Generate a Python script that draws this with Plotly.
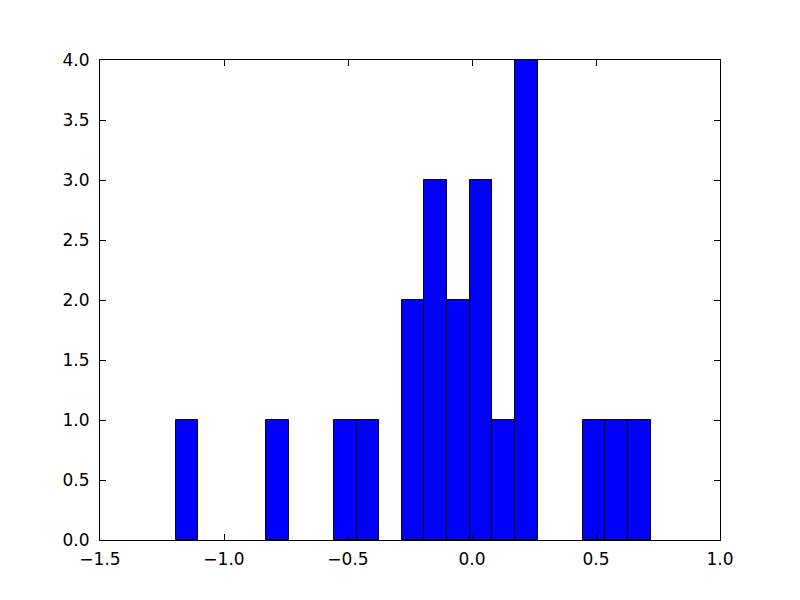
import plotly.graph_objects as go

bin_start = -1.195
bin_width = 0.0912
counts = [1, 0, 0, 0, 1, 0, 0, 1, 1, 0, 2, 3, 2, 3, 1, 4, 0, 0, 1, 1, 1]
x_ticks = [-1.5, -1.0, -0.5, 0.0, 0.5, 1.0]
y_ticks = [0.0, 0.5, 1.0, 1.5, 2.0, 2.5, 3.0, 3.5, 4.0]

centers = [bin_start + bin_width * (i + 0.5) for i in range(len(counts))]
line_widths = [1 if c > 0 else 0 for c in counts]

fig = go.Figure(go.Bar(
    x=centers, y=counts, width=[bin_width] * len(counts),
    marker=dict(color="#0000ff", line=dict(color="black", width=line_widths)),
))

axis_common = dict(
    showgrid=False, zeroline=False, showline=True, linecolor="black", linewidth=1,
    mirror="ticks", ticks="inside", ticklen=6, tickcolor="black", tickwidth=1,
    tickfont=dict(family="DejaVu Sans", size=17, color="black"),
    tickformat=".1f",
)

fig.update_layout(
    width=800, height=600,
    margin=dict(l=92, r=88, t=52, b=68),
    paper_bgcolor="white", plot_bgcolor="white",
    showlegend=False, bargap=0,
    xaxis=dict(range=[-1.5, 1.0], tickvals=x_ticks, ticklabelstandoff=4, **axis_common),
    yaxis=dict(range=[0, 4.0], tickvals=y_ticks, ticklabelstandoff=6, **axis_common),
)

fig.write_html("out.html")
